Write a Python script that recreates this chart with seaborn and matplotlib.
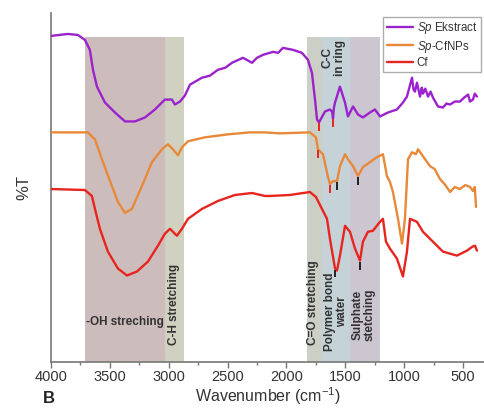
import numpy as np
import pandas as pd
import seaborn as sns
import matplotlib.pyplot as plt

# espectros FTIR (numero de onda em cm-1, %T com deslocamento)
wn_sp = [4000, 3856, 3771, 3711, 3669, 3643, 3609, 3541, 3456, 3371, 3286, 3201, 3117,
         3032, 2972, 2947, 2904, 2862, 2819, 2717, 2650, 2581, 2520, 2462, 2369, 2352,
         2292, 2250, 2199, 2114, 2070, 2029, 1944, 1868, 1817, 1783, 1757, 1740, 1723,
         1672, 1630, 1612, 1604, 1596, 1587, 1545, 1502, 1477, 1434, 1392, 1350, 1290,
         1248, 1205, 1137, 1061, 1010, 976, 933, 920, 908, 891, 865, 850, 840, 820, 797,
         775, 755, 712, 670, 640, 610, 570, 526, 490, 457, 440, 415, 400, 381]
t_sp = [328, 330, 329, 324, 314, 294, 277, 261, 251, 242, 242, 246, 254,
        264, 264, 259, 262, 268, 279, 286, 288, 294, 296, 301, 306, 305,
        301, 306, 309, 312, 311, 316, 314, 311, 304, 291, 264, 244, 241,
        252, 254, 252, 245, 256, 261, 277, 261, 247, 257, 249, 246, 251,
        254, 247, 251, 254, 261, 267, 286, 274, 272, 281, 267, 276, 270, 275, 267,
        272, 266, 257, 256, 260, 259, 262, 262, 266, 269, 262, 264, 270, 267]

wn_np = [4000, 3686, 3626, 3567, 3482, 3431, 3371, 3312, 3227, 3142, 3057, 3006, 2964,
         2921, 2887, 2836, 2692, 2496, 2310, 2182, 2055, 1800, 1749, 1732, 1689, 1647,
         1630, 1604, 1570, 1545, 1502, 1477, 1434, 1392, 1350, 1290, 1231, 1180, 1146,
         1120, 1095, 1052, 1018, 993, 967, 933, 900, 882, 840, 780, 740, 695, 650, 610,
         570, 526, 480, 440, 415, 400, 389]
t_np = [231, 231, 224, 204, 177, 161, 150, 154, 177, 201, 214, 219, 214,
        208, 216, 222, 226, 229, 231, 231, 230, 231, 226, 214, 209, 186,
        179, 182, 182, 197, 209, 204, 197, 187, 196, 201, 206, 209, 187,
        181, 171, 144, 119, 144, 204, 211, 209, 214, 207, 197, 194, 184, 178, 171,
        176, 174, 178, 176, 172, 176, 156]

wn_cf = [4000, 3711, 3652, 3626, 3584, 3516, 3431, 3354, 3269, 3176, 3091, 3032, 2989,
         2930, 2887, 2836, 2717, 2581, 2437, 2292, 2182, 2140, 1970, 1800, 1749, 1698,
         1655, 1630, 1587, 1570, 1545, 1502, 1460, 1417, 1375, 1350, 1307, 1265, 1205,
         1180, 1154, 1120, 1061, 1010, 976, 950, 891, 840, 755, 670, 551, 466, 420,
         398, 381]
t_cf = [174, 173, 167, 154, 134, 111, 94, 87, 91, 101, 117, 129, 134,
        127, 134, 144, 154, 162, 168, 170, 167, 167, 168, 171, 166, 154,
        144, 124, 94, 92, 107, 137, 131, 114, 102, 121, 131, 132, 141,
        144, 121, 114, 104, 86, 111, 144, 141, 131, 121, 111, 107, 112, 116,
        117, 112]

nomes = ["Sp Ekstract", "Sp-CfNPs", "Cf"]
rotulos = [r"$\mathit{Sp}$ Ekstract", r"$\mathit{Sp}$-CfNPs", "Cf"]
cores = ["#9b22cc", "#e8893a", "#e8241e"]

# faixas de atribuicao (inicio, fim, cor)
faixas = [(3710, 3030, "#cdbcbc"), (3030, 2870, "#d0d1c0"), (1825, 1700, "#cbcfc5"),
          (1700, 1460, "#c5d3d8"), (1460, 1205, "#ccc6d1")]

# marcas de pico (serie, numero de onda, cor)
picos = [(0, 1723, "#e8241e"), (0, 1604, "#e8241e"), (1, 1732, "#e8241e"),
         (1, 1630, "#e8241e"), (1, 1570, "#222222"), (1, 1392, "#222222"),
         (2, 1587, "#222222"), (2, 1375, "#222222")]

dados = pd.concat([
    pd.DataFrame({"wn": wn_sp, "T": t_sp, "amostra": nomes[0]}),
    pd.DataFrame({"wn": wn_np, "T": t_np, "amostra": nomes[1]}),
    pd.DataFrame({"wn": wn_cf, "T": t_cf, "amostra": nomes[2]}),
])

sns.set_style("white")
plt.rcParams["font.family"] = ["Liberation Sans", "DejaVu Sans"]
plt.rcParams["mathtext.fontset"] = "custom"
plt.rcParams["mathtext.rm"] = "Liberation Sans"
plt.rcParams["mathtext.it"] = "Liberation Sans:italic"

fig = plt.figure(figsize=(4.85, 4.09), dpi=100)
ax = fig.add_axes([0.105, 0.115, 0.895, 0.853])

for ini, fim, cor in faixas:
    ax.axvspan(ini, fim, ymin=0, ymax=0.932, color=cor, lw=0, zorder=0)

p = sns.lineplot(data=dados, x="wn", y="T", hue="amostra", palette=cores,
                 hue_order=nomes, sort=False, estimator=None, lw=1.7, ax=ax, zorder=3)

series = [(wn_sp, t_sp), (wn_np, t_np), (wn_cf, t_cf)]
for i, w, cor in picos:
    xs, ys = series[i]
    y0 = np.interp(w, xs[::-1], ys[::-1])
    ax.vlines(w, y0 - 9, y0 - 1, color=cor, lw=1.4, zorder=4)

ax.set_xlim(4000, 313)
ax.set_ylim(0, 351)
ax.set_xticks(range(4000, 499, -500))
ax.set_xticks(range(3750, 300, -500), minor=True)
ax.set_yticks([])
ax.tick_params(axis="x", which="major", direction="out", length=4, width=1,
               color="#777777", labelsize=10.5, labelcolor="#333333", bottom=True, pad=2)
ax.tick_params(axis="x", which="minor", direction="out", length=2.5, width=1,
               color="#777777", bottom=True)
for lado in ["top", "right"]:
    ax.spines[lado].set_visible(False)
for lado in ["left", "bottom"]:
    ax.spines[lado].set_color("#777777")
    ax.spines[lado].set_linewidth(1.2)

ax.set_xlabel(r"Wavenumber (cm$^{-1}$)", fontsize=11.5, color="#333333", labelpad=1)
ax.set_ylabel("%T", fontsize=12, color="#333333", labelpad=14)

# textos das faixas
txt = dict(fontsize=8.5, fontweight="bold", color="#333333", zorder=2)
ax.text(3375, 40, "-OH streching", ha="center", va="center", **txt)
ax.text(2955, 17, "C-H stretching", rotation=90, ha="center", va="bottom", **txt)
ax.text(1770, 17, "C=O stretching", rotation=90, ha="center", va="bottom", **txt)
ax.text(1575, 11, "Polymer bond\nwater", rotation=90, ha="center", va="bottom",
        multialignment="center", linespacing=1.0, **txt)
ax.text(1345, 21, "Sulphate\nstetching", rotation=90, ha="center", va="bottom",
        multialignment="center", linespacing=1.0, **txt)
ax.text(1600, 324, "C-C\nin ring", rotation=90, ha="center", va="top",
        multialignment="center", linespacing=1.1, **txt)

handles, _ = ax.get_legend_handles_labels()
leg = ax.legend(handles, rotulos, loc="upper left", bbox_to_anchor=(0.79, 0.959),
                bbox_transform=fig.transFigure, fontsize=8.3, frameon=True, fancybox=False,
                edgecolor="#999999", handlelength=2.3, handletextpad=0.3,
                borderpad=0.3, labelspacing=0.2, borderaxespad=0)
leg.get_frame().set_linewidth(1.0)
for t in leg.get_texts():
    t.set_color("#333333")

fig.text(0.088, 0.015, "B", fontsize=12, fontweight="bold", color="#222222")

plt.savefig("out.png", dpi=100)
